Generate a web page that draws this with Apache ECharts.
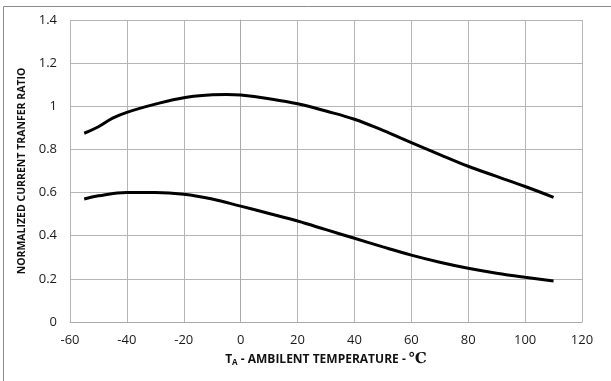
<!DOCTYPE html>
<html>
<head>
<meta charset="utf-8">
<script src="https://cdn.jsdelivr.net/npm/echarts@6/dist/echarts.min.js"></script>
<style>
  html, body { margin: 0; padding: 0; background: #fff; }
  #chart { width: 611px; height: 381px; }
</style>
</head>
<body>
<div id="chart"></div>
<script>
// temperatures (°C)
const tempUpper = [-55, -50, -45, -40, -30, -20, -10, -5, 0, 10, 20, 30, 40, 50, 60, 70, 80, 90, 100, 110]
const ctrUpper = [0.875, 0.905, 0.945, 0.972, 1.01, 1.04, 1.053, 1.055, 1.052, 1.035, 1.012, 0.978, 0.94, 0.888, 0.832, 0.776, 0.722, 0.675, 0.628, 0.578]

const tempLower = [-55, -50, -40, -30, -20, -10, 0, 10, 20, 30, 40, 50, 60, 70, 80, 90, 100, 110]
const ctrLower = [0.57, 0.585, 0.6, 0.6, 0.592, 0.57, 0.537, 0.503, 0.468, 0.428, 0.388, 0.348, 0.31, 0.277, 0.249, 0.226, 0.207, 0.19]

const xTicks = [-60, -40, -20, 0, 20, 40, 60, 80, 100, 120]
const yTicks = [0, 0.2, 0.4, 0.6, 0.8, 1, 1.2, 1.4]

const chart = echarts.init(document.getElementById('chart'))

const labelFont = { color: '#1a1a1a', fontSize: 13, fontFamily: 'Open Sans' }

const option = {
    animation: false,
    graphic: [
        {
            type: 'rect',
            shape: { x: 3.5, y: 6.5, width: 640, height: 400 },
            style: { fill: 'none', stroke: '#8c8c8c', lineWidth: 1 }
        }
    ],
    grid: { left: 70, right: 29, top: 20, bottom: 59 },
    xAxis: {
        type: 'value',
        min: -60,
        max: 120,
        interval: 20,
        name: '{t|T}{s|A}{t| - AMBILENT TEMPERATURE - }{c|℃}',
        nameLocation: 'middle',
        nameGap: 27,
        nameTextStyle: {
            rich: {
                t: { fontSize: 12, fontWeight: 'bold', fontFamily: 'Open Sans', color: '#111' },
                s: { fontSize: 8, fontWeight: 'bold', fontFamily: 'Open Sans', color: '#111', verticalAlign: 'bottom', padding: [6, 0, 0, 0] },
                c: { fontSize: 15, fontWeight: 'bold', fontFamily: 'DejaVu Serif', color: '#111' }
            }
        },
        axisLine: { show: true, onZero: false, lineStyle: { color: '#aaa', width: 1 } },
        axisTick: { show: false },
        axisLabel: Object.assign({ margin: 12, formatter: v => xTicks.includes(v) ? String(v) : '' }, labelFont),
        splitLine: { show: true, lineStyle: { color: '#b5b5b5', width: 1 } }
    },
    yAxis: {
        type: 'value',
        min: 0,
        max: 1.4,
        interval: 0.2,
        name: 'NORMALIZED CURRENT TRANFER RATIO',
        nameLocation: 'middle',
        nameGap: 40,
        nameTextStyle: { fontSize: 10.5, fontWeight: 'bold', fontFamily: 'Open Sans', color: '#111' },
        axisLine: { show: true, lineStyle: { color: '#aaa', width: 1 } },
        axisTick: { show: false },
        axisLabel: Object.assign({ margin: 13, formatter: v => {
            const t = yTicks.find(k => Math.abs(k - v) < 1e-6)
            return t === undefined ? '' : String(t)
        } }, labelFont),
        splitLine: { show: true, lineStyle: { color: '#b5b5b5', width: 1 } }
    },
    series: [
        {
            type: 'line',
            smooth: 0.4,
            showSymbol: false,
            lineStyle: { color: '#000', width: 3 },
            data: tempUpper.map((t, i) => [t, ctrUpper[i]])
        },
        {
            type: 'line',
            smooth: 0.4,
            showSymbol: false,
            lineStyle: { color: '#000', width: 3 },
            data: tempLower.map((t, i) => [t, ctrLower[i]])
        }
    ]
}

chart.setOption(option)
</script>
</body>
</html>
